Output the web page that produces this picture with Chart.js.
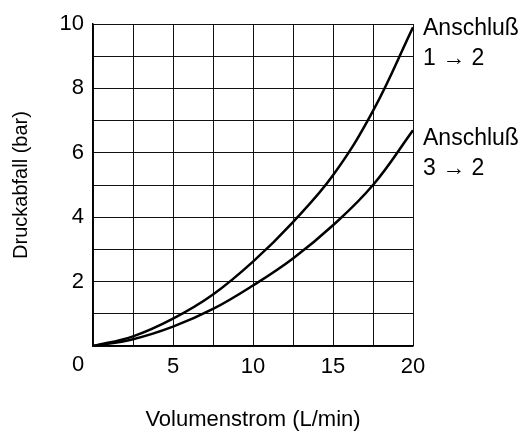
<!DOCTYPE html>
<html>
<head>
<meta charset="utf-8">
<script src="https://cdn.jsdelivr.net/npm/chart.js@4"></script>
<style>
  html, body { margin: 0; padding: 0; background: #fff; }
  #wrap { width: 528px; height: 433px; }
</style>
</head>
<body>
<div id="wrap"><canvas id="chart" width="528" height="433"></canvas></div>
<script>
// flow rate (L/min) and pressure drop (bar)
const flow = [0, 2.5, 5, 7.5, 10, 12.5, 15, 17.5, 20]
const drop12 = [0, 0.3, 0.85, 1.6, 2.62, 3.85, 5.3, 7.3, 9.9]
const drop32 = [0, 0.21, 0.6, 1.15, 1.88, 2.72, 3.75, 5.0, 6.7]
const curveLabels = [["Anschluß", "1 \u2192 2"], ["Anschluß", "3 \u2192 2"]]
const xLabels = [5, 10, 15, 20]
const yLabels = [2, 4, 6, 8, 10]

const font = "'Liberation Sans', Arial, sans-serif"

const pts = (ys) => flow.map((x, i) => ({ x: x, y: ys[i] }))

const labelPlugin = {
  id: 'labels',
  afterDraw(chart) {
    const ctx = chart.ctx
    const xs = chart.scales.x, ys = chart.scales.y
    ctx.save()
    ctx.fillStyle = '#000'
    ctx.font = '22px ' + font
    // corner zero
    ctx.textAlign = 'center'
    ctx.textBaseline = 'middle'
    ctx.fillText('0', xs.getPixelForValue(0) - 15, xs.top + 19)
    // curve names at the right end
    ctx.textAlign = 'left'
    ctx.textBaseline = 'alphabetic'
    ctx.font = '23px ' + font
    const ends = [drop12[drop12.length - 1], drop32[drop32.length - 1]]
    const x0 = chart.chartArea.right + 10
    curveLabels.forEach((lines, i) => {
      const y0 = ys.getPixelForValue(ends[i]) + (i === 0 ? 8 : 15)
      lines.forEach((t, j) => ctx.fillText(t, x0, y0 + j * 30))
    })
    ctx.restore()
  }
}

window.onload = () => {
  new Chart(document.getElementById('chart'), {
    type: 'line',
    data: {
      datasets: [
        { data: pts(drop12), borderColor: '#000', borderWidth: 2.5, pointRadius: 0, fill: false, tension: 0.4 },
        { data: pts(drop32), borderColor: '#000', borderWidth: 2.5, pointRadius: 0, fill: false, tension: 0.4 }
      ]
    },
    options: {
      responsive: false,
      animation: false,
      layout: { padding: { top: 24, right: 115, left: 0, bottom: 0 } },
      plugins: { legend: { display: false }, tooltip: { enabled: false } },
      scales: {
        x: {
          type: 'linear', min: 0, max: 20,
          afterFit: (s) => { s.height = 87 },
          ticks: {
            stepSize: 2.5, maxRotation: 0, padding: 8, color: '#000',
            font: { family: font, size: 22 },
            callback: (v) => xLabels.includes(v) ? String(v) : ''
          },
          grid: { color: '#111', lineWidth: 1, drawTicks: false },
          border: { color: '#000', width: 1.5 },
          title: { display: true, text: 'Volumenstrom (L/min)', color: '#000', font: { family: font, size: 22 }, padding: { bottom: 0 } }
        },
        y: {
          min: 0, max: 10,
          afterFit: (s) => { s.width = 93 },
          ticks: {
            stepSize: 1, padding: 9, color: '#000',
            font: { family: font, size: 22 },
            callback: (v) => yLabels.includes(v) ? String(v) : ''
          },
          grid: { color: '#111', lineWidth: 1, drawTicks: false },
          border: { color: '#000', width: 1.5 },
          title: { display: true, text: 'Druckabfall (bar)', color: '#000', font: { family: font, size: 20 }, padding: { top: 9 } }
        }
      }
    },
    plugins: [labelPlugin]
  })
}
</script>
</body>
</html>
